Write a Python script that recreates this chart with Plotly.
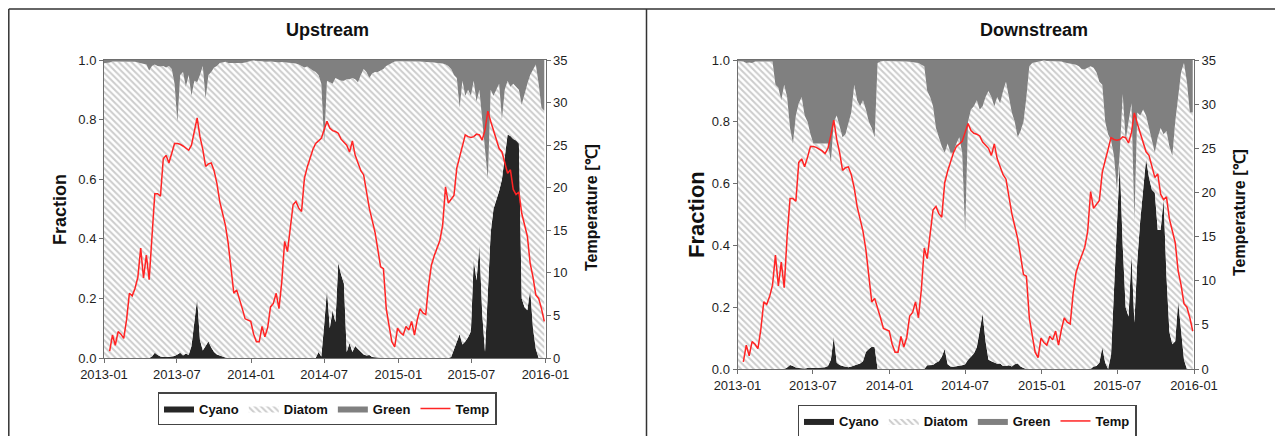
import plotly.graph_objects as go
import pandas as pd

# ---------------- data (weekly samples, 2013-01-01 .. 2015-12-29) ----------------
DATES = pd.date_range("2013-01-01", periods=157, freq="7D")

TEMP = [
    None, None, 0.8, 2.7, 1.5, 3.1, 2.8, 2.3, 4.5, 7.6,
    7.3, 8.2, 9.5, 12.9, 9.4, 12.1, 9.2, 15.0, 19.3, 19.3,
    19.0, 23.4, 23.8, 22.9, 24.0, 25.2, 25.2, 25.1, 24.9, 24.7,
    24.4, 25.0, 26.5, 28.2, 26.0, 24.5, 22.5, 22.8, 22.9, 22.0,
    20.5, 18.4, 17.0, 15.6, 13.5, 10.8, 7.6, 8.0, 7.0, 5.8,
    4.6, 4.4, 4.3, 2.8, 1.9, 1.9, 3.7, 2.5, 3.6, 6.0,
    6.4, 7.6, 5.8, 9.0, 13.7, 12.5, 15.0, 18.0, 18.4, 17.6,
    17.2, 21.1, 22.4, 23.5, 24.5, 25.2, 25.5, 25.8, 26.8, 27.8,
    27.0, 26.7, 26.6, 26.4, 25.7, 25.3, 25.0, 24.2, 25.5, 23.8,
    22.9, 22.0, 21.5, 19.5, 17.6, 16.2, 14.8, 12.8, 10.7, 10.5,
    5.8, 3.8, 1.9, 1.3, 3.5, 3.0, 2.7, 3.7, 3.3, 4.3,
    2.7, 4.5, 5.8, 5.3, 5.1, 8.5, 10.9, 12.0, 12.9, 13.8,
    15.6, 20.1, 18.2, 18.6, 19.1, 22.3, 23.5, 24.8, 26.2, 26.0,
    25.9, 26.0, 26.3, 26.2, 25.6, 26.8, 29.0, 27.8, 26.8, 25.6,
    24.6, 24.2, 22.9, 21.7, 22.1, 19.8, 19.2, 19.5, 17.0, 15.8,
    14.3, 11.1, 9.5, 7.4, 7.0, 5.8, 4.3,
]

UP_CYANO = [
    0, 0, 0, 0, 0, 0, 0, 0, 0, 0,
    0, 0, 0, 0, 0, 0, 0, 0.005, 0.018, 0.01,
    0.005, 0.003, 0.002, 0.003, 0.005, 0.007, 0.012, 0.018, 0.008, 0.015,
    0.01, 0.04, 0.12, 0.20, 0.06, 0.025, 0.04, 0.055, 0.035, 0.02,
    0.012, 0.008, 0.004, 0.002, 0, 0, 0, 0, 0, 0,
    0, 0, 0, 0, 0, 0, 0, 0, 0, 0,
    0, 0, 0, 0, 0, 0, 0, 0, 0, 0,
    0, 0, 0, 0, 0, 0, 0.02, 0.005, 0.11, 0.23,
    0.10, 0.16, 0.12, 0.32, 0.28, 0.25, 0.02, 0.05, 0.02, 0.04,
    0.03, 0.02, 0.012, 0.008, 0.01, 0.003, 0.002, 0, 0, 0,
    0, 0, 0, 0, 0, 0, 0, 0, 0, 0,
    0, 0, 0, 0, 0, 0, 0, 0, 0, 0,
    0, 0, 0, 0.003, 0.03, 0.05, 0.08, 0.045, 0.055, 0.07,
    0.09, 0.33, 0.26, 0.38, 0.15, 0.02, 0.2, 0.42, 0.5, 0.53,
    0.56, 0.6, 0.68, 0.75, 0.745, 0.735, 0.73, 0.72, 0.2, 0.17,
    0.16, 0.23, 0.1, 0.03, 0, 0, 0,
]

UP_GREEN = [
    0.011, 0.01, 0.008, 0.005, 0.005, 0.004, 0.005, 0.006, 0.005, 0.005,
    0.006, 0.006, 0.008, 0.01, 0.012, 0.015, 0.035, 0.02, 0.015, 0.02,
    0.022, 0.02, 0.025, 0.02, 0.03, 0.08, 0.21, 0.05, 0.04, 0.09,
    0.05, 0.12, 0.07, 0.075, 0.05, 0.02, 0.13, 0.05, 0.04, 0.025,
    0.02, 0.01, 0.008, 0.006, 0.01, 0.01, 0.012, 0.01, 0.012, 0.01,
    0.008, 0.005, 0.003, 0.002, 0.002, 0.003, 0.004, 0.006, 0.005, 0.005,
    0.006, 0.008, 0.008, 0.007, 0.008, 0.008, 0.009, 0.01, 0.012, 0.015,
    0.02, 0.025, 0.022, 0.03, 0.035, 0.04, 0.05, 0.08, 0.28, 0.07,
    0.075, 0.08, 0.06, 0.065, 0.07, 0.07, 0.065, 0.065, 0.06, 0.065,
    0.075, 0.05, 0.03, 0.04, 0.06, 0.045, 0.04, 0.04, 0.035, 0.03,
    0.02, 0.015, 0.01, 0.005, 0.004, 0.004, 0.003, 0.003, 0.004, 0.004,
    0.005, 0.005, 0.005, 0.006, 0.006, 0.007, 0.008, 0.008, 0.01, 0.01,
    0.012, 0.015, 0.02, 0.03, 0.05, 0.06, 0.16, 0.07, 0.12, 0.1,
    0.12, 0.07, 0.14, 0.1, 0.2, 0.3, 0.4, 0.1, 0.12, 0.1,
    0.08, 0.2, 0.1, 0.07, 0.09, 0.08, 0.09, 0.1, 0.15, 0.11,
    0.08, 0.05, 0.03, 0.015, 0.08, 0.16, 0.17,
]

DOWN_CYANO = [
    0, 0, 0, 0, 0, 0, 0, 0, 0, 0,
    0, 0, 0, 0, 0, 0, 0, 0.005, 0.013, 0.01,
    0.005, 0.003, 0.002, 0.002, 0.003, 0.002, 0.003, 0.003, 0.005, 0.005,
    0.006, 0.01, 0.03, 0.105, 0.02, 0.013, 0.01, 0.008, 0.006, 0.008,
    0.012, 0.015, 0.018, 0.025, 0.055, 0.065, 0.072, 0.07, 0, 0,
    0, 0, 0, 0, 0, 0, 0, 0, 0, 0,
    0, 0, 0, 0, 0, 0.012, 0.012, 0.013, 0.02, 0.025,
    0.04, 0.065, 0.015, 0.008, 0.007, 0.008, 0.01, 0.012, 0.015, 0.03,
    0.04, 0.05, 0.07, 0.13, 0.18, 0.09, 0.03, 0.025, 0.02, 0.017,
    0.018, 0.01, 0.01, 0.012, 0.008, 0.015, 0.018, 0.008, 0.003, 0,
    0, 0, 0, 0, 0, 0, 0, 0, 0, 0,
    0, 0, 0, 0, 0, 0, 0, 0, 0, 0,
    0, 0, 0.008, 0.01, 0.02, 0.07, 0.02, 0, 0.045, 0.26,
    0.42, 0.67, 0.4, 0.2, 0.17, 0.37, 0.15, 0.35, 0.48, 0.58,
    0.68, 0.62, 0.58, 0.57, 0.45, 0.45, 0.55, 0.3, 0.12, 0.08,
    0.09, 0.22, 0.12, 0.03, 0, 0, 0,
]

DOWN_GREEN = [
    0.003, 0.005, 0.005, 0.01, 0.008, 0.01, 0.005, 0.005, 0.005, 0.003,
    0.003, 0.003, 0.005, 0.08, 0.09, 0.13, 0.08, 0.12, 0.22, 0.27,
    0.18, 0.14, 0.12, 0.18, 0.2, 0.24, 0.27, 0.27, 0.27, 0.27,
    0.27, 0.27, 0.33, 0.2, 0.18, 0.22, 0.25, 0.24, 0.2, 0.17,
    0.08, 0.13, 0.15, 0.13, 0.16, 0.2, 0.22, 0.25, 0.01, 0.005,
    0.003, 0.003, 0.005, 0.003, 0.003, 0.005, 0.005, 0.004, 0.005, 0.006,
    0.008, 0.008, 0.01, 0.015, 0.02, 0.1, 0.12, 0.15, 0.22, 0.25,
    0.28, 0.3, 0.27, 0.3, 0.3, 0.27, 0.25, 0.3, 0.56, 0.2,
    0.16, 0.15, 0.13, 0.16, 0.15, 0.12, 0.1, 0.12, 0.15, 0.12,
    0.14, 0.1, 0.07, 0.12, 0.17, 0.2, 0.25, 0.23, 0.2, 0.12,
    0.02, 0.01, 0.008, 0.005, 0.003, 0.002, 0.003, 0.003, 0.003, 0.004,
    0.004, 0.005, 0.008, 0.01, 0.01, 0.012, 0.015, 0.02, 0.03, 0.03,
    0.025, 0.02, 0.025, 0.04, 0.07, 0.08, 0.2, 0.24, 0.26, 0.31,
    0.42, 0.3, 0.11, 0.26, 0.2, 0.14, 0.52, 0.17, 0.18, 0.16,
    0.18, 0.22, 0.25, 0.3, 0.25, 0.22, 0.24, 0.23, 0.28, 0.31,
    0.2, 0.12, 0.04, 0.01, 0.07, 0.17, 0.17,
]

X_TICKS = ["2013-01-01", "2013-07-01", "2014-01-01", "2014-07-01",
           "2015-01-01", "2015-07-01", "2016-01-01"]
X_TICKTEXT = ["2013-01", "2013-07", "2014-01", "2014-07", "2015-01", "2015-07", "2016-01"]
FRAC_TICKS = [0, 0.2, 0.4, 0.6, 0.8, 1.0]
FRAC_TICKTEXT = ["0.0", "0.2", "0.4", "0.6", "0.8", "1.0"]
TEMP_TICKS = [0, 5, 10, 15, 20, 25, 30, 35]

for arr in (TEMP, UP_CYANO, UP_GREEN, DOWN_CYANO, DOWN_GREEN):
    assert len(arr) == len(DATES), len(arr)

# ---------------- styling ----------------
FONT = "Liberation Sans, Arial, Helvetica, sans-serif"
PAGE_OFF = 8                      # default body margin of the page
W, H = 1283 - PAGE_OFF, 436 - PAGE_OFF
C_CYANO = "#262626"
C_GREEN = "#808080"
C_TEMP = "#ff2424"
AX_COL = "#6e6e6e"


def px_x(p):
    return (p - PAGE_OFF) / W


def px_y(p):
    return (H - (p - PAGE_OFF)) / H


fig = go.Figure()


def add_panel(xa, ya, ya2, cyano, green, legend, group):
    diatom = [round(1 - c - g, 4) for c, g in zip(cyano, green)]
    fig.add_trace(go.Scatter(
        x=DATES, y=cyano, name="Cyano", stackgroup=group, mode="lines",
        line=dict(width=0, color=C_CYANO), fillcolor=C_CYANO,
        xaxis=xa, yaxis=ya, legend=legend, hoverinfo="skip"))
    fig.add_trace(go.Scatter(
        x=DATES, y=diatom, name="Diatom", stackgroup=group, mode="lines",
        line=dict(width=0, color="#bdbdbd"), fillcolor="white",
        fillpattern=dict(shape="\\", bgcolor="white", fgcolor="#9a9a9a",
                         size=4.5, solidity=0.45),
        xaxis=xa, yaxis=ya, legend=legend, hoverinfo="skip"))
    fig.add_trace(go.Scatter(
        x=DATES, y=green, name="Green", stackgroup=group, mode="lines",
        line=dict(width=0, color=C_GREEN), fillcolor=C_GREEN,
        xaxis=xa, yaxis=ya, legend=legend, hoverinfo="skip"))
    fig.add_trace(go.Scatter(
        x=DATES, y=TEMP, name="Temp", mode="lines",
        line=dict(width=1.5, color=C_TEMP),
        xaxis=xa, yaxis=ya2, legend=legend, hoverinfo="skip"))


add_panel("x", "y", "y2", UP_CYANO, UP_GREEN, "legend", "up")
add_panel("x2", "y3", "y4", DOWN_CYANO, DOWN_GREEN, "legend2", "down")

tickfont = dict(family=FONT, size=13, color="#1e1e1e")

xcommon = dict(type="date", range=["2013-01-01", "2016-01-01"],
               tickvals=X_TICKS, ticktext=X_TICKTEXT, tickfont=tickfont,
               showline=True, linecolor=AX_COL, linewidth=1, mirror=True,
               ticks="outside", ticklen=4, tickcolor=AX_COL, showgrid=False,
               zeroline=False, automargin=False)
ycommon = dict(range=[0, 1], tickvals=FRAC_TICKS, ticktext=FRAC_TICKTEXT,
               tickfont=tickfont, showline=True, linecolor=AX_COL, linewidth=1,
               ticks="outside", ticklen=4, tickcolor=AX_COL, showgrid=False,
               zeroline=False, automargin=False)
y2common = dict(range=[0, 35], tickvals=TEMP_TICKS, tickfont=tickfont,
                showline=True, linecolor=AX_COL, linewidth=1, side="right",
                ticks="outside", ticklen=4, tickcolor=AX_COL, showgrid=False,
                zeroline=False, automargin=False)

legend_common = dict(orientation="h", xanchor="center", yanchor="middle",
                     bordercolor="#444", borderwidth=1.5, bgcolor="white",
                     font=dict(family=FONT, size=13, color="#111", weight="bold"),
                     itemwidth=30, tracegroupgap=0, traceorder="normal")

fig.update_layout(
    width=W, height=H, autosize=False,
    margin=dict(l=0, r=0, t=0, b=0, pad=0, autoexpand=False),
    paper_bgcolor="white", plot_bgcolor="white",
    showlegend=True,
    xaxis=dict(domain=[px_x(104), px_x(545.5)], anchor="y", **xcommon),
    yaxis=dict(domain=[px_y(358), px_y(60)], anchor="x", **ycommon),
    yaxis2=dict(overlaying="y", anchor="x", **y2common),
    xaxis2=dict(domain=[px_x(737.5), px_x(1194)], anchor="y3", **xcommon),
    yaxis3=dict(domain=[px_y(369), px_y(60)], anchor="x2", **ycommon),
    yaxis4=dict(overlaying="y3", anchor="x2", **y2common),
    legend=dict(x=px_x(327), y=px_y(408.5), **legend_common),
    legend2=dict(x=px_x(967), y=px_y(421), **legend_common),
)

bold = dict(family=FONT, color="#111", weight="bold")
annots = [
    dict(text="Upstream", x=px_x(327), y=px_y(30), font=dict(size=18, **bold)),
    dict(text="Downstream", x=px_x(1034), y=px_y(30), font=dict(size=18, **bold)),
    dict(text="Fraction", x=px_x(60), y=px_y(210), textangle=-90,
         font=dict(size=18, **bold)),
    dict(text="Temperature [℃]", x=px_x(591), y=px_y(208), textangle=-90,
         font=dict(size=16, **bold)),
    dict(text="Fraction", x=px_x(696), y=px_y(214), textangle=-90,
         font=dict(size=22, **bold)),
    dict(text="Temperature [℃]", x=px_x(1239), y=px_y(213), textangle=-90,
         font=dict(size=16, **bold)),
]
for a in annots:
    fig.add_annotation(xref="paper", yref="paper", showarrow=False,
                       xanchor="center", yanchor="middle", **a)

frame = dict(color="#333333", width=1.5)
fig.add_shape(type="line", xref="paper", yref="paper",
              x0=px_x(8.8), x1=1, y0=px_y(9), y1=px_y(9), line=frame)
fig.add_shape(type="line", xref="paper", yref="paper",
              x0=px_x(8.8), x1=px_x(8.8), y0=px_y(9), y1=0, line=frame)
fig.add_shape(type="line", xref="paper", yref="paper",
              x0=px_x(646.5), x1=px_x(646.5), y0=px_y(9), y1=0, line=frame)

fig.write_html("out.html")
